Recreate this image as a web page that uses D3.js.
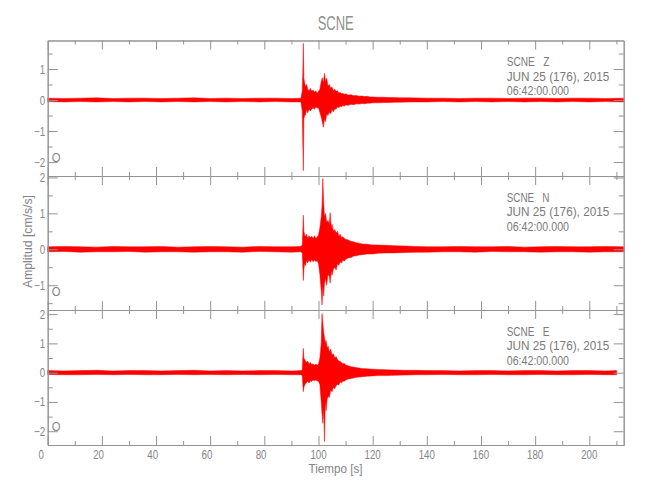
<!DOCTYPE html>
<html><head><meta charset="utf-8">
<script src="https://cdn.jsdelivr.net/npm/d3@7"></script>
<style>body{margin:0;background:#fff}text{font-family:"Liberation Sans",Arial,sans-serif;white-space:pre}</style>
</head><body><svg id="c" width="650" height="500"></svg>
<script>
// ---------- data ----------
const title = "SCNE";
const channels = ["Z", "N", "E"];
const stationLabel = "SCNE";
const dateLabel = "JUN 25 (176), 2015";
const timeLabel = "06:42:00.000";
const xLabel = "Tiempo [s]";
const yLabel = "Amplitud [cm/s/s]";
const xTicksMajor = [0,20,40,60,80,100,120,140,160,180,200];
const xTicksMinor = [10,30,50,70,90,110,130,150,170,190,210];
const yTicksZ = [-2,-1,0,1];
const yTicksN = [-1,0,1,2];
const yTicksE = [-2,-1,0,1,2];
const yMinorZ = [-1.5,-0.5,0.5,1.5];
const yMinorN = [-1.5,-0.5,0.5,1.5];
const yMinorE = [-1.5,-0.5,0.5,1.5];
const yDomainZ = [-2.45, 1.92];
const yDomainN = [-1.69, 2.04];
const yDomainE = [-2.47, 2.14];
const xDomain = [0, 212.7];

// [time s, envelope max, envelope min]
const traceZ = [[0,0.06,-0.05],[6,0.05,-0.06],[12,0.06,-0.05],[18,0.07,-0.06],[24,0.05,-0.05],[30,0.06,-0.06],[36,0.06,-0.05],[42,0.05,-0.06],[48,0.06,-0.05],[54,0.07,-0.06],[60,0.05,-0.05],[66,0.06,-0.06],[72,0.05,-0.05],[78,0.06,-0.06],[84,0.06,-0.05],[90,0.05,-0.06],[93.5,0.06,-0.06],
[94.0,0.3,-0.35],[94.2,0.88,-1.4],[94.4,1.83,-2.28],[94.6,0.7,-0.6],[94.9,0.55,-0.5],[95.2,0.42,-0.48],[95.6,0.5,-0.3],[96,0.35,-0.42],[96.5,0.3,-0.3],[97,0.38,-0.35],[97.5,0.28,-0.3],[98,0.32,-0.25],[98.5,0.25,-0.3],[99,0.3,-0.22],[99.5,0.22,-0.26],[100,0.28,-0.25],[100.5,0.35,-0.4],[101,0.6,-0.55],[101.4,0.72,-0.7],[101.8,0.55,-0.88],[102.2,0.86,-0.6],[102.6,0.6,-0.7],[103,0.7,-0.45],[103.5,0.45,-0.5],[104,0.5,-0.38],[104.5,0.38,-0.45],[105,0.42,-0.3],[105.5,0.3,-0.38],[106,0.35,-0.28],[106.5,0.28,-0.3],[107,0.3,-0.22],[107.5,0.22,-0.25],[108,0.25,-0.2],[108.5,0.2,-0.22],[109,0.22,-0.18],[109.5,0.18,-0.2],[110,0.2,-0.16],[111,0.16,-0.17],[112,0.17,-0.14],[113,0.14,-0.15],[114,0.15,-0.12],[115,0.12,-0.13],[116,0.13,-0.11],[117,0.11,-0.12],[118,0.12,-0.1],[119,0.1,-0.1],[120,0.1,-0.09],[122,0.09,-0.09],[124,0.09,-0.08],[126,0.08,-0.08],[128,0.08,-0.07],[130,0.07,-0.07],[134,0.07,-0.06],[140,0.06,-0.06],[146,0.06,-0.05],[152,0.05,-0.06],[158,0.06,-0.05],[164,0.06,-0.06],[170,0.05,-0.05],[176,0.06,-0.06],[182,0.06,-0.05],[188,0.05,-0.06],[194,0.06,-0.05],[200,0.06,-0.06],[206,0.05,-0.05],[212.7,0.06,-0.06]];

const traceN = [[0,0.07,-0.07],[6,0.08,-0.06],[12,0.07,-0.08],[18,0.06,-0.07],[24,0.08,-0.07],[30,0.07,-0.06],[36,0.07,-0.08],[42,0.08,-0.07],[48,0.06,-0.07],[54,0.07,-0.08],[60,0.08,-0.07],[66,0.07,-0.07],[72,0.06,-0.08],[78,0.08,-0.06],[84,0.07,-0.07],[90,0.07,-0.08],[93.5,0.08,-0.07],
[94.0,0.12,-0.1],[94.2,0.5,-0.45],[94.4,0.95,-0.87],[94.6,0.5,-0.55],[94.9,0.4,-0.4],[95.2,0.35,-0.45],[95.6,0.42,-0.3],[96,0.3,-0.38],[96.5,0.38,-0.3],[97,0.32,-0.36],[97.5,0.36,-0.28],[98,0.3,-0.35],[98.5,0.38,-0.3],[99,0.3,-0.34],[99.5,0.34,-0.32],[100,0.4,-0.4],[100.5,0.6,-0.7],[101,0.9,-1.15],[101.3,1.2,-1.55],[101.6,1.97,-1.0],[101.9,1.3,-1.3],[102.2,0.9,-0.95],[102.6,1.0,-0.8],[103,0.75,-1.0],[103.5,0.8,-0.7],[104,0.7,-0.75],[104.3,1.02,-0.94],[104.7,0.6,-0.6],[105,0.7,-0.72],[105.5,0.5,-0.55],[106,0.55,-0.5],[106.5,0.45,-0.58],[107,0.5,-0.4],[107.5,0.36,-0.45],[108,0.42,-0.35],[108.5,0.32,-0.38],[109,0.35,-0.3],[109.5,0.3,-0.33],[110,0.28,-0.28],[111,0.26,-0.24],[112,0.22,-0.23],[113,0.21,-0.19],[114,0.18,-0.18],[115,0.17,-0.16],[116,0.15,-0.15],[118,0.14,-0.13],[120,0.12,-0.13],[122,0.12,-0.11],[125,0.11,-0.1],[128,0.1,-0.1],[132,0.09,-0.09],[136,0.08,-0.08],[140,0.07,-0.08],
[146,0.07,-0.07],[152,0.08,-0.07],[158,0.07,-0.08],[164,0.07,-0.06],[170,0.08,-0.07],[176,0.06,-0.07],[182,0.07,-0.08],[188,0.08,-0.07],[194,0.07,-0.07],[200,0.07,-0.08],[206,0.08,-0.07],[212.7,0.07,-0.07]];

const traceE = [[0,0.07,-0.06],[6,0.06,-0.07],[12,0.07,-0.07],[18,0.08,-0.06],[24,0.06,-0.07],[30,0.07,-0.06],[36,0.07,-0.07],[42,0.06,-0.07],[48,0.07,-0.06],[54,0.08,-0.07],[60,0.06,-0.06],[66,0.07,-0.07],[72,0.06,-0.06],[78,0.07,-0.07],[84,0.07,-0.06],[90,0.06,-0.07],[93.5,0.07,-0.07],
[94.0,0.1,-0.1],[94.2,0.5,-0.4],[94.4,0.83,-0.65],[94.6,0.5,-0.5],[94.9,0.45,-0.42],[95.2,0.4,-0.38],[95.6,0.35,-0.33],[96,0.4,-0.3],[96.5,0.3,-0.35],[97,0.35,-0.28],[97.5,0.28,-0.3],[98,0.3,-0.25],[98.5,0.25,-0.28],[99,0.3,-0.25],[99.5,0.25,-0.28],[100,0.3,-0.3],[100.5,0.5,-0.4],[101,1.0,-1.0],[101.3,2.02,-1.4],[101.6,1.7,-1.73],[101.9,1.4,-1.2],[102.2,1.2,-2.35],[102.5,1.0,-1.0],[102.8,1.1,-1.3],[103.2,0.85,-0.9],[103.6,0.9,-0.8],[104,0.7,-0.85],[104.5,0.8,-0.6],[105,0.6,-0.65],[105.5,0.65,-0.5],[106,0.5,-0.55],[106.5,0.55,-0.45],[107,0.45,-0.4],[107.5,0.4,-0.42],[108,0.38,-0.32],[108.5,0.35,-0.35],[109,0.3,-0.28],[109.5,0.32,-0.3],[110,0.26,-0.25],[111,0.24,-0.22],[112,0.2,-0.2],[113,0.19,-0.18],[114,0.17,-0.16],[115,0.16,-0.15],[116,0.14,-0.14],[118,0.13,-0.12],[120,0.12,-0.11],[122,0.11,-0.1],[125,0.1,-0.1],[128,0.09,-0.09],[132,0.08,-0.08],[136,0.08,-0.07],[140,0.07,-0.07],
[146,0.07,-0.06],[152,0.06,-0.07],[158,0.07,-0.07],[164,0.07,-0.06],[170,0.06,-0.07],[176,0.07,-0.07],[182,0.07,-0.06],[188,0.06,-0.07],[194,0.07,-0.07],[200,0.07,-0.06],[206,0.06,-0.07],[210.1,0.07,-0.07]];

// ---------- layout ----------
const svg = d3.select("#c");
const L = 47.7, R = 623.7;
const panelTops = [40.5, 176, 310];
const panelBottoms = [176, 310, 445];
const axisColor = "#939393", textColor = "#858585", red = "#ff0000";

const x = d3.scaleLinear().domain(xDomain).range([L, R]);

const panels = [
  {trace: traceZ, dom: yDomainZ, major: yTicksZ, minor: yMinorZ},
  {trace: traceN, dom: yDomainN, major: yTicksN, minor: yMinorN},
  {trace: traceE, dom: yDomainE, major: yTicksE, minor: yMinorE}
];

function label(g, px, py, s, opt) {
  opt = opt || {};
  const t = g.append("text")
    .attr("transform", `translate(${px},${py})` + (opt.rot ? ` rotate(${opt.rot})` : "") + ` scale(${opt.sx || 1},1)`)
    .attr("text-anchor", opt.anchor || "start")
    .attr("font-size", opt.size || 12.5)
    .attr("fill", opt.color || textColor)
    .text(s);
  if (opt.len) t.attr("textLength", opt.len).attr("lengthAdjust", "spacingAndGlyphs");
  return t;
}

const gTrace = svg.append("g");
const gAxes = svg.append("g");

panels.forEach((p, i) => {
  const top = panelTops[i], bot = panelBottoms[i];
  const y = d3.scaleLinear().domain(p.dom).range([bot, top]);

  // trace envelope
  const area = d3.area().x(d => x(d[0])).y0(d => y(d[2])).y1(d => y(d[1]));
  gTrace.append("path").datum(p.trace).attr("d", area)
    .attr("fill", red).attr("stroke", red).attr("stroke-width", 0.5).attr("stroke-linejoin", "round");

  // axes
  const ax = (axis, tx, ty) => {
    const g = gAxes.append("g").attr("transform", `translate(${tx},${ty})`).call(axis);
    g.selectAll("path.domain").attr("stroke", axisColor);
    g.selectAll("line").attr("stroke", axisColor);
    g.selectAll("text").remove();
    return g;
  };
  ax(d3.axisLeft(y).tickValues(p.major).tickSize(-10).tickSizeOuter(0), L, 0);
  ax(d3.axisLeft(y).tickValues(p.minor).tickSize(-5).tickSizeOuter(0), L, 0);
  ax(d3.axisRight(y).tickValues(p.major).tickSize(-10).tickSizeOuter(0), R, 0);
  ax(d3.axisRight(y).tickValues(p.minor).tickSize(-5).tickSizeOuter(0), R, 0);
  ax(d3.axisTop(x).tickValues(xTicksMajor).tickSize(-9).tickSizeOuter(0), 0, top);
  ax(d3.axisTop(x).tickValues(xTicksMinor).tickSize(-4).tickSizeOuter(0), 0, top);
  ax(d3.axisBottom(x).tickValues(xTicksMajor).tickSize(-9).tickSizeOuter(0), 0, bot);
  ax(d3.axisBottom(x).tickValues(xTicksMinor).tickSize(-4).tickSizeOuter(0), 0, bot);

  // y tick labels
  p.major.forEach(v => {
    label(gAxes, L - 2.5, y(v) + 4.5, v < 0 ? "\u2212" + Math.abs(v) : String(v), {anchor: "end", sx: 0.78});
  });

  // annotations
  label(gAxes, 506.7, top + 25.5, stationLabel + "   " + channels[i], {len: 42.7, size: 13, color: "#7a7a7a"});
  label(gAxes, 506.7, top + 40, dateLabel, {len: 102.6, size: 13, color: "#7a7a7a"});
  label(gAxes, 506.7, top + 54.5, timeLabel, {len: 62.3, size: 13, color: "#7a7a7a"});
  label(gAxes, 51.7, bot - 14, "O", {sx: 0.9});
});

// x tick labels (bottom panel)
xTicksMajor.forEach(v => {
  const s = String(v);
  const off = -(3 - s.length) * 3.3;
  label(gAxes, x(v) + off, 459, s, {anchor: "middle", sx: 0.78});
});

// titles
label(gAxes, (L + R) / 2, 30, title, {anchor: "middle", size: 21, len: 36, color: "#909090"});
label(gAxes, 335.5, 473, xLabel, {anchor: "middle", size: 13, len: 54});
label(gAxes, 32, 241.5, yLabel, {anchor: "middle", size: 13, len: 93, rot: -90});
</script></body></html>
